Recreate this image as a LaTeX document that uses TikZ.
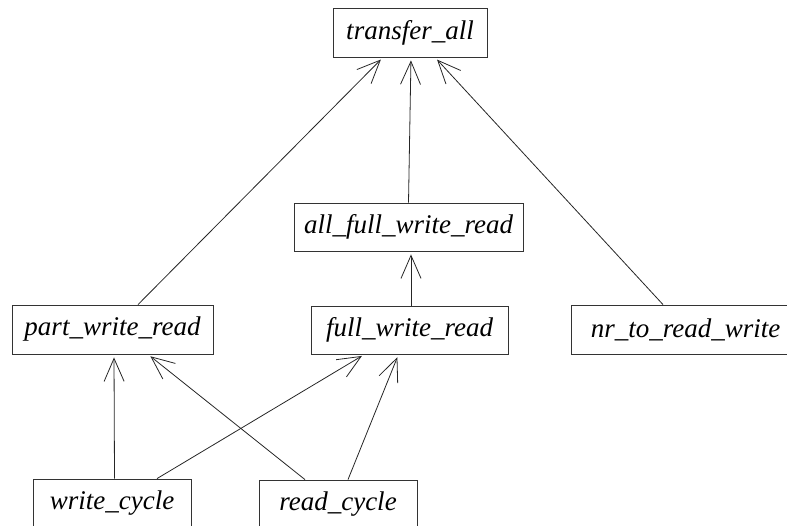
\documentclass[tikz,border=0pt]{standalone}
\usepackage{fontspec}
\setmainfont{Liberation Serif}
\usetikzlibrary{arrows.meta}
\tikzset{
  box/.style={draw=black!80, line width=0.8pt, inner sep=0pt, minimum height=49pt,
    font=\fontsize{27}{30}\selectfont\itshape},
  conn/.style={draw=black!85, line width=0.8pt, -{Straight Barb[length=23pt,width=20pt]}, shorten >=3pt}
}
\begin{document}
\begin{tikzpicture}[x=1pt,y=-1pt]
\useasboundingbox (0,0) rectangle (787,526);
\node[box, minimum width=154pt] (T) at (410,32.5) {transfer\_all};
\node[box, minimum width=229pt, minimum height=48pt] (A) at (408.5,227) {all\_full\_write\_read};
\node[box, minimum width=201pt] (P) at (112.5,329.5) {part\_write\_read};
\node[box, minimum width=197pt, minimum height=48pt] (F) at (409.5,330) {full\_write\_read};
\node[box, minimum width=229pt] (N) at (685.5,329.5) {nr\_to\_read\_write};
\node[box, minimum width=158pt] (W) at (112,503.5) {write\_cycle};
\node[box, minimum width=158pt] (R) at (338,504.5) {read\_cycle};

\draw[conn] ([xshift=25.5pt]P.north) -- ([xshift=-27pt]T.south);
\draw[conn] (A.north) -- ([xshift=1pt]T.south);
\draw[conn] ([xshift=-22.5pt]N.north) -- ([xshift=25pt]T.south);
\draw[conn] ([xshift=1.5pt]F.north) -- ([xshift=2.5pt]A.south);
\draw[conn] ([xshift=2.5pt]W.north) -- ([xshift=1.5pt]P.south);
\draw[conn] ([xshift=45pt]W.north) -- ([xshift=-45pt]F.south);
\draw[conn] ([xshift=-33pt]R.north) -- ([xshift=35.5pt]P.south);
\draw[conn] ([xshift=10pt]R.north) -- ([xshift=-11pt]F.south);
\end{tikzpicture}
\end{document}
